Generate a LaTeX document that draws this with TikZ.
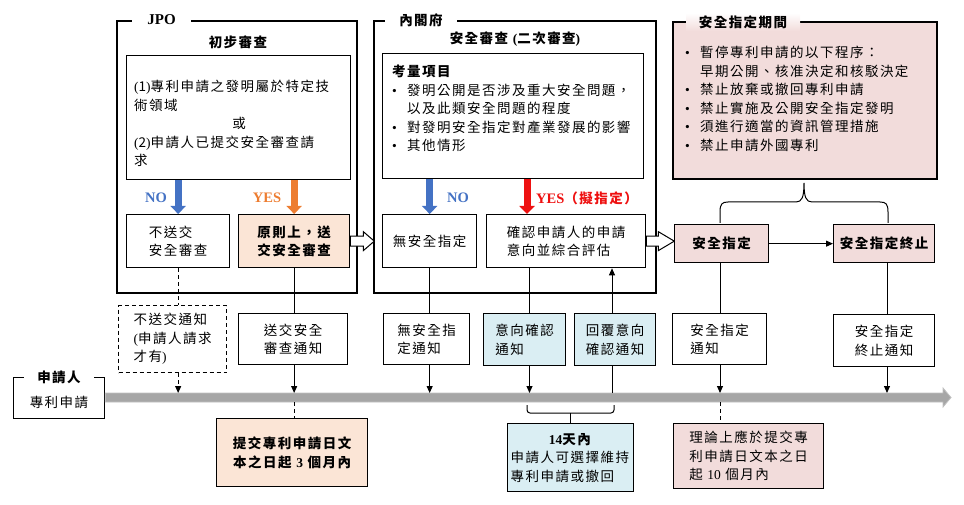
\documentclass[tikz,border=0pt]{standalone}
\usepackage{fontspec}
\setmainfont{Liberation Serif}
\newfontfamily\cjk[LetterSpace=11]{Noto Sans CJK TC}
\usetikzlibrary{arrows.meta,calc}
\definecolor{peach}{HTML}{FBE5D6}
\definecolor{pinkfill}{HTML}{F2DCDB}
\definecolor{lblue}{HTML}{DAEEF3}
\definecolor{noblue}{HTML}{4472C4}
\definecolor{yesorange}{HTML}{ED7D31}
\definecolor{yesred}{HTML}{EE1111}
\definecolor{tlfill}{HTML}{A6A6A6}
\definecolor{tldraw}{HTML}{C0C0C0}
\newcommand\cj{\cjk\fontsize{13.5}{18.5}\selectfont}
\newcommand\blt{\makebox[15pt][l]{\rmfamily\textbullet}}
\newcommand\ind{\hspace*{15pt}}
\newcommand\lp{{\rmfamily (}}
\newcommand\rp{{\rmfamily )}}
\begin{document}
\begin{tikzpicture}[x=1pt,y=-1pt,
  box/.style={draw, line width=1.3pt, inner sep=0pt, anchor=north west, font=\cj, align=left},
  frm/.style={draw, line width=1.3pt},
  conn/.style={line width=1pt},
  arr/.style={line width=1pt, -{Triangle[length=7pt,width=6pt]}},
  fat/.style={line width=7pt, -{Triangle[length=8pt,width=15pt]}},
  blk/.style={draw, line width=1pt, fill=white},
  lbl/.style={font=\bfseries\fontsize{14.5}{16}\selectfont},
  bcj/.style={font=\cj\bfseries, inner sep=2pt}]
\useasboundingbox (0,0) rectangle (964,505);

% ---------------- JPO ----------------
\draw[frm] (117,21) rectangle (357,293);
\node[lbl, fill=white, minimum width=59pt, font=\bfseries\fontsize{15}{16}\selectfont] (jpo) at (161.5,20) {JPO};
\node[bcj] (jpotitle) at (238,42) {初步審查};
\node[box, minimum width=224pt, minimum height=124pt] (crit) at (126,55) {};
\node[anchor=north west, font=\cj, align=left, inner sep=0pt, text width=210pt] (crittext) at (134,80)
  {\lp1\rp 專利申請之發明屬於特定技\\術領域\\\makebox[210pt]{或}\\\lp2\rp 申請人已提交安全審查請\\求};
\node[box, minimum width=103pt, minimum height=53pt] (nosend) at (126,214) {不送交\\安全審查};
\node[box, fill=peach, font=\cj\bfseries, minimum width=111pt, minimum height=53pt] (send) at (238,214) {原則上，送\\交安全審查};
\draw[fat, noblue] (nosend.north |- crit.south) -- (nosend.north);
\draw[fat, yesorange] (send.north |- crit.south) -- (send.north);
\node[lbl, text=noblue] (nolbl1) at (156,198) {NO};
\node[lbl, text=yesorange] (yeslbl1) at (267,198) {YES};

% ---------------- Cabinet Office ----------------
\draw[frm] (374,21) rectangle (656,293);
\node[bcj, fill=white, minimum width=72pt] (cablbl) at (421,20) {內閣府};
\node[bcj] (cabtitle) at (515,39) {安全審查 \lp 二次審查\rp};
\node[box, minimum width=261pt, minimum height=125pt] (cons) at (382,53) {};
\node[anchor=north west, font=\cj, align=left, inner sep=0pt] (constext) at (392,65)
  {\textbf{考量項目}\\\blt 發明公開是否涉及重大安全問題，\\\ind 以及此類安全問題的程度\\\blt 對發明安全指定對產業發展的影響\\\blt 其他情形};
\node[box, minimum width=94pt, minimum height=53pt] (nosd) at (382,214) {無安全指定};
\node[box, minimum width=159pt, minimum height=53pt] (confirm) at (486,214) {確認申請人的申請\\意向並綜合評估};
\coordinate (yx) at (527,214);
\draw[fat, noblue] (nosd.north |- cons.south) -- (nosd.north);
\draw[fat, yesred] (yx |- cons.south) -- (yx);
\node[lbl, text=noblue] (nolbl2) at (458,198) {NO};
\node[lbl, text=yesred] (yeslbl2) at (587,198) {YES{\cj\bfseries（擬指定）}};

% block arrows
\draw[blk] (send.east) ++(0,-5) -- ++(13,0) -- ++(0,-4.5) -- ++(11,9.5) -- ++(-11,9.5) -- ++(0,-4.5) -- ++(-13,0) -- cycle;
\draw[blk] (confirm.east) ++(0,-5) -- ++(12,0) -- ++(0,-4.5) -- ++(16,9.5) -- ++(-16,9.5) -- ++(0,-4.5) -- ++(-12,0) -- cycle;

% ---------------- Designation period ----------------
\draw[frm, fill=pinkfill] (673,22) rectangle (937,179);
\node[bcj, top color=white, bottom color=pinkfill, minimum width=114pt, minimum height=18pt] (perlbl) at (743,22) {安全指定期間};
\node[anchor=north west, font=\cj, align=left, inner sep=0pt] (pertext) at (685,46)
  {\blt 暫停專利申請的以下程序：\\\ind 早期公開、核准決定和核駁決定\\\blt 禁止放棄或撤回專利申請\\\blt 禁止實施及公開安全指定發明\\\blt 須進行適當的資訊管理措施\\\blt 禁止申請外國專利};
\node[box, fill=pinkfill, font=\cj\bfseries, minimum width=94pt, minimum height=38pt] (sd) at (674,224) {安全指定};
\node[box, fill=pinkfill, font=\cj\bfseries, minimum width=101pt, minimum height=38pt] (sdend) at (833,224) {安全指定終止};
\draw[arr] (sd.east) -- (sdend.west);
\draw[conn] (720,223) -- (720,212) .. controls (720,204) and (722,202) .. (728,202) -- (796,202)
  .. controls (802,202) and (804,197) .. (804,183) .. controls (804,197) and (806,202) .. (812,202)
  -- (880,202) .. controls (886,202) and (888,204) .. (888,212) -- (888,223);

% ---------------- Applicant & timeline ----------------
\node[box, minimum width=91pt, minimum height=41pt] (app) at (13,377) {};
\node[bcj, fill=white, minimum width=70pt] (applbl) at (59,377) {申請人};
\node[font=\cj, inner sep=0pt] (apptext) at (59,402) {專利申請};
\draw[draw=tldraw, fill=tlfill, line width=0.8pt] (app.east |- 0,393) -- (943,393) -- (943,388) -- (951,397.5) -- (943,407) -- (943,402) -- (app.east |- 0,402) -- cycle;
\coordinate (tltop) at (0,393);
\coordinate (tlbot) at (0,402);

% ---------------- Notices ----------------
\node[box, dashed, dash pattern=on 4pt off 3pt, minimum width=108pt, minimum height=67pt] (nsnote) at (118,305) {不送交通知\\\lp 申請人請求\\才有\rp};
\node[box, align=center, minimum width=109pt, minimum height=51pt] (sendnote) at (238,313) {送交安全\\審查通知};
\node[box, minimum width=86pt, minimum height=51pt] (nosdnote) at (383,313) {無安全指\\定通知};
\node[box, fill=lblue, minimum width=82pt, minimum height=52pt] (intent) at (483,313) {意向確認\\通知};
\node[box, fill=lblue, minimum width=81pt, minimum height=52pt] (reply) at (574,313) {回覆意向\\確認通知};
\node[box, minimum width=94pt, minimum height=51pt] (sdnote) at (672,313) {安全指定\\通知};
\node[box, align=center, minimum width=101pt, minimum height=52pt] (sdendnote) at (833,314) {安全指定\\終止通知};

\node[box, fill=peach, font=\cj\bfseries, align=center, minimum width=151pt, minimum height=68pt] (m3) at (216,418) {提交專利申請日文\\本之日起 {\rmfamily 3} 個月內};
\node[box, fill=lblue, minimum width=126pt, minimum height=68pt] (days) at (507,423) {\makebox[120pt]{\textbf{{\rmfamily 14}天內}}\\申請人可選擇維持\\專利申請或撤回};
\node[box, fill=pinkfill, minimum width=150pt, minimum height=65pt] (m10) at (673,423) {理論上應於提交專\\利申請日文本之日\\起 {\rmfamily 10} 個月內};

% ---------------- Connectors ----------------
\draw[conn, dashed, dash pattern=on 4pt off 3pt] (nosend.south) -- (nosend.south |- nsnote.north);
\draw[arr, dashed, dash pattern=on 4pt off 3pt] (nosend.south |- nsnote.south) -- (nosend.south |- tltop);
\draw[conn] (send.south) -- (send.south |- sendnote.north);
\draw[arr] (send.south |- sendnote.south) -- (send.south |- tltop);
\draw[conn, dashed, dash pattern=on 4pt off 3pt] (send.south |- tlbot) -- (send.south |- m3.north);

\draw[conn] (nosd.south) -- (nosd.south |- nosdnote.north);
\draw[arr] (nosd.south |- nosdnote.south) -- (nosd.south |- tltop);

\coordinate (xi) at (529.5,0);
\coordinate (xr) at (612,0);
\draw[conn] (xi |- confirm.south) -- (xi |- intent.north);
\draw[arr] (xi |- intent.south) -- (xi |- tltop);
\draw[conn] (xr |- tltop) -- (xr |- reply.south);
\draw[arr] (xr |- reply.north) -- (xr |- confirm.south);
\coordinate (bry) at (0,413);
\draw[conn, rounded corners=3pt] (527,405) -- (527,413) -- (614,413) -- (614,405);
\draw[conn] (days.north |- bry) -- (days.north);

\coordinate (xs) at (720,0);
\coordinate (xe) at (887,0);
\draw[conn] (xs |- sd.south) -- (xs |- sdnote.north);
\draw[arr] (xs |- sdnote.south) -- (xs |- tltop);
\draw[conn, dashed, dash pattern=on 4pt off 3pt] (xs |- tlbot) -- (xs |- m10.north);
\draw[conn] (xe |- sdend.south) -- (xe |- sdendnote.north);
\draw[arr] (xe |- sdendnote.south) -- (xe |- tltop);
\end{tikzpicture}
\end{document}
